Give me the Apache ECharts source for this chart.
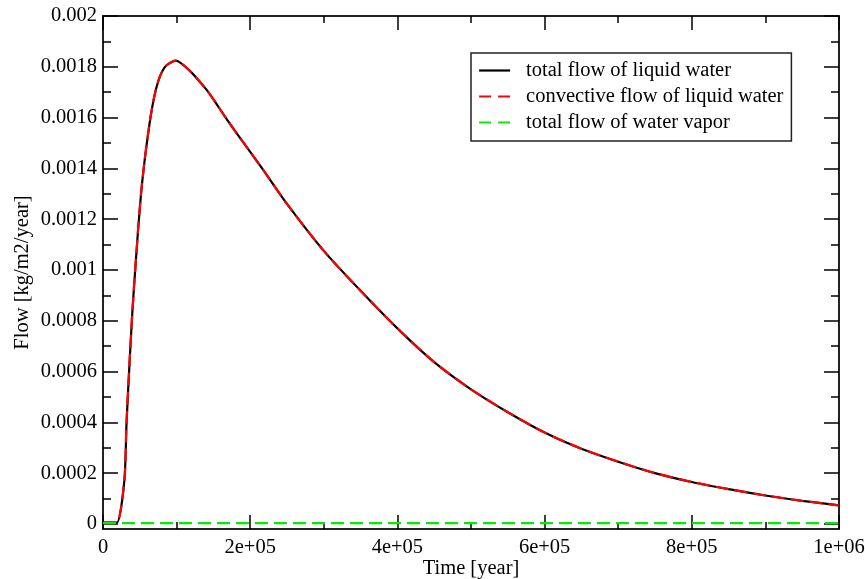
<!DOCTYPE html>
<html>
<head>
<meta charset="utf-8">
<script src="https://cdn.jsdelivr.net/npm/echarts@6/dist/echarts.min.js"></script>
<style>
  html, body { margin: 0; padding: 0; background: #fff; }
  #chart { width: 865px; height: 579px; }
</style>
</head>
<body>
<div id="chart"></div>
<script>
// Time samples [year]
const times = [0, 10000, 19000, 29000, 32000, 36000, 40000, 44000, 48000, 52000,
  56500, 61000, 65600, 71000, 77800, 86000, 98600, 117700, 140000, 150000,
  165000, 181200, 200000, 217400, 250000, 300000, 350000, 400000, 450000, 500000,
  550000, 600000, 650000, 700000, 750000, 800000, 850000, 900000, 950000, 1000000];

// Total flow of liquid water [kg/m2/year]
const totalLiquid = [0.000005, 0.000005, 0.000005, 0.00017, 0.00040, 0.00063, 0.00084, 0.00101, 0.00117, 0.00131,
  0.00143, 0.00153, 0.00162, 0.0017, 0.001765, 0.001805, 0.001824, 0.001785, 0.001712, 0.001672,
  0.001607, 0.00154, 0.001465, 0.001395, 0.00126, 0.001075, 0.000918, 0.00077, 0.000637, 0.00053,
  0.00044, 0.00036, 0.000296, 0.000245, 0.0002, 0.000165, 0.000137, 0.000112, 0.000091, 0.000073];

// Convective flow of liquid water [kg/m2/year]
const convectiveLiquid = [0.000005, 0.000005, 0.000005, 0.00017, 0.00040, 0.00063, 0.00084, 0.00101, 0.00117, 0.00131,
  0.00143, 0.00153, 0.00162, 0.0017, 0.001765, 0.001805, 0.001824, 0.001785, 0.001712, 0.001672,
  0.001607, 0.00154, 0.001465, 0.001395, 0.00126, 0.001075, 0.000918, 0.00077, 0.000637, 0.00053,
  0.00044, 0.00036, 0.000296, 0.000245, 0.0002, 0.000165, 0.000137, 0.000112, 0.000091, 0.000073];

// Total flow of water vapor [kg/m2/year]
const vaporTimes = [0, 200000, 400000, 600000, 800000, 1000000];
const totalVapor = [0.000003, 0.000003, 0.000003, 0.000003, 0.000003, 0.000003];

// Axis ticks and labels
const yMajorTicks = [0, 0.0002, 0.0004, 0.0006, 0.0008, 0.001, 0.0012, 0.0014, 0.0016, 0.0018, 0.002];
const yTickLabels = ['0', '0.0002', '0.0004', '0.0006', '0.0008', '0.001', '0.0012', '0.0014', '0.0016', '0.0018', '0.002'];
const yMinorTicks = [0.0001, 0.0003, 0.0005, 0.0007, 0.0009, 0.0011, 0.0013, 0.0015, 0.0017, 0.0019];
const xTickLabels = ['0', '2e+05', '4e+05', '6e+05', '8e+05', '1e+06'];

const seriesNames = ['total flow of liquid water', 'convective flow of liquid water', 'total flow of water vapor'];

const FONT = 'Liberation Serif';
const FS = 20.5;
const Y_MIN = -0.00002, Y_MAX = 0.002;
const lineCol = '#222';
const DASH = [13, 6];

function pairs(xs, ys) { return xs.map((x, i) => [x, ys[i]]); }

function yAxisCfg(pos, ticks, len, withLine, withLabels) {
  return {
    type: 'value', position: pos, min: Y_MIN, max: Y_MAX,
    axisLine: { show: withLine, onZero: false, lineStyle: { color: lineCol, width: 2 } },
    axisTick: { show: true, inside: true, length: len, customValues: ticks,
      lineStyle: { color: '#000', width: 1.5 } },
    axisLabel: withLabels ? {
      show: true, customValues: yMajorTicks, margin: 6,
      fontFamily: FONT, fontSize: FS, color: '#000',
      formatter: v => {
        const i = yMajorTicks.findIndex(t => Math.abs(t - v) < 1e-9);
        return i >= 0 ? yTickLabels[i] : '';
      }
    } : { show: false },
    splitLine: { show: false }
  };
}

function xAxisCfg(pos, withLabels) {
  return {
    type: 'value', position: pos, min: 0, max: 1000000, interval: 200000,
    axisLine: { show: true, onZero: false, lineStyle: { color: lineCol, width: 2 } },
    axisTick: { show: true, inside: true, length: 14, lineStyle: { color: '#000', width: 1.5 } },
    minorTick: { show: true, splitNumber: 2, length: 7, lineStyle: { color: '#000', width: 1.5 } },
    axisLabel: withLabels ? { fontFamily: FONT, fontSize: FS, color: '#000', margin: 8,
      formatter: v => xTickLabels[Math.round(v / 200000)] } : { show: false },
    splitLine: { show: false }
  };
}

const chart = echarts.init(document.getElementById('chart'), null, { renderer: 'canvas' });

const hiddenSymbol = { opacity: 0 };

chart.setOption({
  animation: false,
  backgroundColor: '#fff',
  grid: { left: 103, right: 26, top: 16, bottom: 50, containLabel: false, outerBoundsMode: 'none' },
  legend: {
    orient: 'vertical', left: 471, top: 53,
    padding: [7, 8, 8, 7],
    borderColor: '#222', borderWidth: 1.5,
    itemWidth: 31, itemHeight: 14, itemGap: 5,
    textStyle: { fontFamily: FONT, fontSize: FS, color: '#000', lineHeight: 20, padding: [0, 0, 0, 11] },
    data: [
      { name: seriesNames[0], itemStyle: hiddenSymbol, lineStyle: { color: '#000', width: 2.2, type: 'solid' } },
      { name: seriesNames[1], itemStyle: hiddenSymbol, lineStyle: { color: '#ff0000', width: 2.2, type: [12, 7] } },
      { name: seriesNames[2], itemStyle: hiddenSymbol, lineStyle: { color: '#00ee00', width: 2.2, type: [12, 7] } }
    ]
  },
  xAxis: [
    Object.assign(xAxisCfg('bottom', true), {
      name: 'Time [year]', nameLocation: 'middle', nameGap: 29, nameMoveOverlap: false,
      nameTextStyle: { fontFamily: FONT, fontSize: FS, color: '#000' }
    }),
    xAxisCfg('top', false)
  ],
  yAxis: [
    Object.assign(yAxisCfg('left', yMajorTicks, 15, true, true), {
      name: 'Flow [kg/m2/year]', nameLocation: 'middle', nameGap: 70, nameMoveOverlap: false,
      nameTextStyle: { fontFamily: FONT, fontSize: FS, color: '#000' }
    }),
    yAxisCfg('left', yMinorTicks, 8, false, false),
    yAxisCfg('right', yMajorTicks, 15, true, false),
    yAxisCfg('right', yMinorTicks, 8, false, false)
  ],
  series: [
    {
      name: seriesNames[0], type: 'line', showSymbol: false, symbol: 'none', smooth: 0.25,
      data: pairs(times, totalLiquid),
      lineStyle: { color: '#000', width: 2.2 }, itemStyle: { color: '#000' }, z: 2
    },
    {
      name: seriesNames[1], type: 'line', showSymbol: false, symbol: 'none', smooth: 0.25,
      data: pairs(times, convectiveLiquid),
      lineStyle: { color: '#ff0000', width: 2.2, type: DASH }, itemStyle: { color: '#ff0000' }, z: 3
    },
    {
      name: seriesNames[2], type: 'line', showSymbol: false, symbol: 'none',
      data: pairs(vaporTimes, totalVapor),
      lineStyle: { color: '#00ee00', width: 2.2, type: DASH }, itemStyle: { color: '#00ee00' }, z: 4
    }
  ]
});
</script>
</body>
</html>
